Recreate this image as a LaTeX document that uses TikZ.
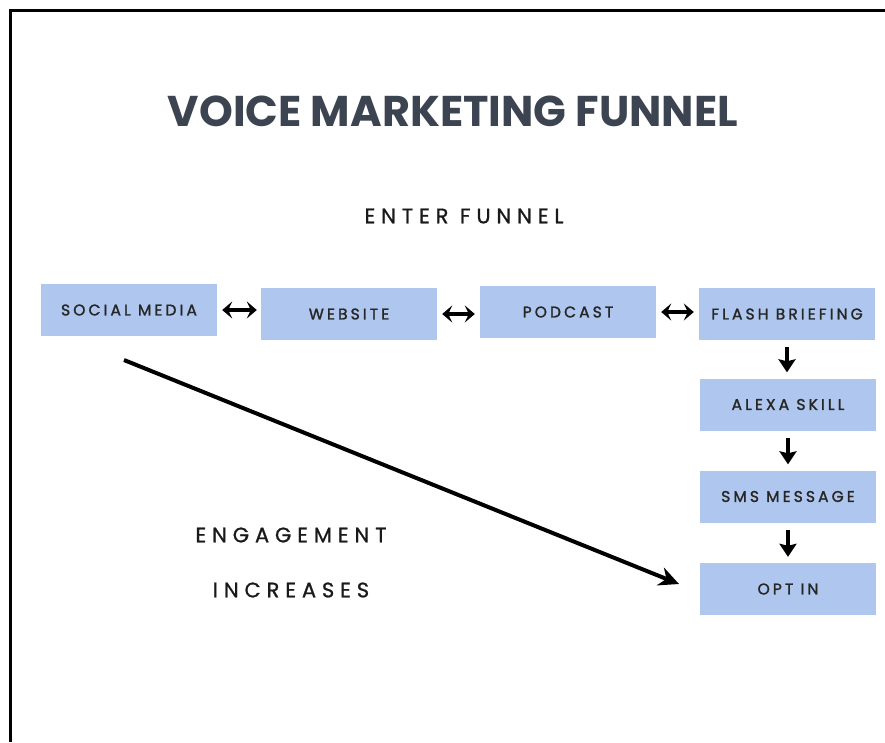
\documentclass[tikz,border=0pt]{standalone}
\usepackage{fontspec}
\setmainfont{Poppins}
\newfontfamily\stagefont[LetterSpace=20, FakeBold=1.5]{Poppins}
\newfontfamily\capfont[LetterSpace=28, FakeBold=1]{Poppins}
\usetikzlibrary{
    arrows.meta,
    positioning
}
\definecolor{stageblue}{HTML}{AFC7EE}
\definecolor{titlegray}{HTML}{3D4451}

\begin{document}
\begin{tikzpicture}[x=1pt, y=1pt,
    stage/.style={fill=stageblue, minimum width=176pt, minimum height=52pt, inner sep=0pt,
        text=black!85, font=\stagefont\fontsize{15.5}{15.5}\selectfont},
    caption/.style={text=black!90, font=\capfont\fontsize{21}{21}\selectfont},
    twoway/.style={arrows={Stealth[length=10pt,width=17pt,inset=4pt]-Stealth[length=10pt,width=17pt,inset=4pt]}, line width=4pt},
    drop/.style={arrows={-Stealth[length=13pt,width=17pt,inset=2pt]}, line width=4pt},
    rise/.style={arrows={-Stealth[length=20pt,width=19pt]}, line width=4pt}]
    \useasboundingbox (0, 0) rectangle (885, -742);
    % frame
    \draw[line width=3pt] (10.5, -742) -- (10.5, -10.5) -- (885, -10.5);
    % headings
    \node[text=titlegray, font=\bfseries\fontsize{43}{43}\selectfont] (title) at (453, -111) {VOICE MARKETING FUNNEL};
    \node[caption] (enter) at (464, -216) {ENTER FUNNEL};
    \node[caption] (engage) at (291, -535) {ENGAGEMENT};
    \node[caption] (incr) at (291, -590) {INCREASES};
    % top row
    \node[stage] (social) at (129, -310) {SOCIAL MEDIA};
    \node[stage] (website) at (349, -314) {WEBSITE};
    \node[stage] (podcast) at (568, -312) {PODCAST};
    \node[stage] (flash) at (787, -314) {FLASH BRIEFING};
    % right column
    \node[stage] (alexa) at (788, -404.5) {ALEXA SKILL};
    \node[stage] (sms) at (788, -496.5) {SMS MESSAGE};
    \node[stage] (optin) at (788, -589) {OPT IN};
    \coordinate (eng start) at (124, -360);
    \coordinate (eng end) at (679, -584);
    \draw
    (social.east) edge[twoway, shorten <=5pt, shorten >=4pt] (social.east -| website.west)
    (website.east) edge[twoway, shorten <=5pt, shorten >=5pt] (website.east -| podcast.west)
    (podcast.east) edge[twoway, shorten <=5pt, shorten >=5pt] (podcast.east -| flash.west)
    (flash.south) edge[drop, shorten <=7pt, shorten >=6pt] (flash.south |- alexa.north)
    (alexa.south) edge[drop, shorten <=7pt, shorten >=6pt] (alexa.south |- sms.north)
    (sms.south) edge[drop, shorten <=7pt, shorten >=6pt] (sms.south |- optin.north)
    (eng start) edge[rise] (eng end);
\end{tikzpicture}
\end{document}
